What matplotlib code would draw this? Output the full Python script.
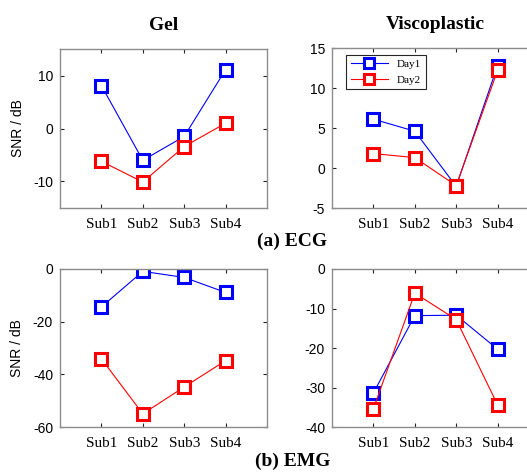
import numpy as np
import matplotlib.pyplot as plt

subjects = ['Sub1', 'Sub2', 'Sub3', 'Sub4']

# ECG SNR (dB)
ecg_gel_day1 = [8.1, -6.0, -1.5, 11.1]
ecg_gel_day2 = [-6.2, -10.1, -3.4, 1.0]
ecg_visco_day1 = [6.1, 4.6, -2.3, 12.8]
ecg_visco_day2 = [1.8, 1.3, -2.2, 12.2]

# EMG SNR (dB)
emg_gel_day1 = [-14.4, -0.9, -3.2, -8.9]
emg_gel_day2 = [-34.1, -55.0, -44.8, -34.8]
emg_visco_day1 = [-31.4, -11.8, -11.7, -20.3]
emg_visco_day2 = [-35.4, -6.1, -12.8, -34.4]

serif = 'Liberation Serif'
sans = 'Liberation Sans'

fig = plt.figure(figsize=(5.27, 4.73), dpi=100)

W, H = 527, 473


def make_ax(left, top, bottom, width=207):
    return fig.add_axes([left / W, (H - bottom) / H, width / W, (bottom - top) / H])


def style(ax, ylim, yticks, ylabel=False):
    x = np.arange(1, len(subjects) + 1)
    ax.set_xlim(0, 5)
    ax.set_ylim(*ylim)
    ax.set_xticks(x)
    ax.set_xticklabels(subjects, fontfamily=serif, fontsize=11)
    ax.set_yticks(yticks)
    ax.set_yticklabels([str(t) for t in yticks], fontfamily=sans, fontsize=10)
    ax.tick_params(direction='in', length=3, width=0.8, top=True, right=True,
                   color='#262626')
    ax.tick_params(axis='x', pad=7)
    ax.tick_params(axis='y', pad=5)
    for s in ax.spines.values():
        s.set_color('#8c8c8c')
        s.set_linewidth(1.0)
    if ylabel:
        ax.set_ylabel('SNR / dB', fontfamily=sans, fontsize=10, labelpad=6)


def draw(ax, d1, d2):
    x = np.arange(1, len(subjects) + 1)
    l1, = ax.plot(x, d1, color='#0000ff', lw=0.8, marker='s', ms=9, mew=2.2,
                  mfc='white', mec='#0000ff', label='Day1')
    l2, = ax.plot(x, d2, color='#ff0000', lw=0.8, marker='s', ms=9, mew=2.2,
                  mfc='white', mec='#ff0000', label='Day2')
    return l1, l2


ax1 = make_ax(60, 49, 208)
ax2 = make_ax(332, 48, 208)
ax3 = make_ax(60, 269, 427)
ax4 = make_ax(332, 269, 427)

draw(ax1, ecg_gel_day1, ecg_gel_day2)
draw(ax2, ecg_visco_day1, ecg_visco_day2)
draw(ax3, emg_gel_day1, emg_gel_day2)
draw(ax4, emg_visco_day1, emg_visco_day2)

style(ax1, (-15, 15), [-10, 0, 10], ylabel=True)
style(ax2, (-5, 15), [-5, 0, 5, 10, 15])
style(ax3, (-60, 0), [-60, -40, -20, 0], ylabel=True)
style(ax4, (-40, 0), [-40, -30, -20, -10, 0])

ax1.set_title('Gel', fontfamily=serif, fontsize=14, fontweight='bold', pad=14)
ax2.set_title('Viscoplastic', fontfamily=serif, fontsize=14, fontweight='bold', pad=14)

leg = ax2.legend(loc='upper left', bbox_to_anchor=(0.068, 0.956), borderaxespad=0,
                 prop={'family': serif, 'size': 8}, fancybox=False,
                 edgecolor='#262626', handlelength=3.4, markerscale=0.8,
                 framealpha=1)
leg.get_frame().set_linewidth(0.8)

fig.text(292 / W, 1 - 241 / H, '(a) ECG', fontfamily=serif, fontsize=14,
         fontweight='bold', ha='center', va='center')
fig.text(293 / W, 1 - 461 / H, '(b) EMG', fontfamily=serif, fontsize=14,
         fontweight='bold', ha='center', va='center')

fig.savefig('out.png', dpi=100)
